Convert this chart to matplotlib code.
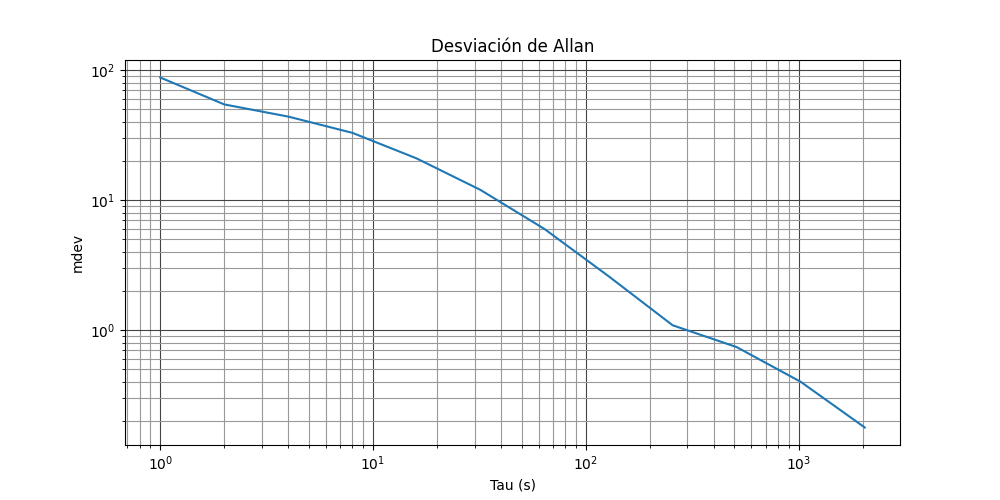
import matplotlib
matplotlib.use('Agg')
import matplotlib.pyplot as plt

tau = [1, 2, 4, 8, 16, 32, 64, 128, 256, 512, 1024, 2048]
mdev = [88, 54.6, 44, 33, 21, 12, 6.0, 2.6, 1.09, 0.74, 0.40, 0.178]

fig, ax = plt.subplots(figsize=(10, 5))
ax.loglog(tau, mdev)
ax.grid(True, which='major', color='#444444', linewidth=0.8)
ax.grid(True, which='minor', color='#999999', linewidth=0.8)
ax.set_title('Desviación de Allan')
ax.set_xlabel('Tau (s)')
ax.set_ylabel('mdev')
plt.savefig('out.png', dpi=100)
